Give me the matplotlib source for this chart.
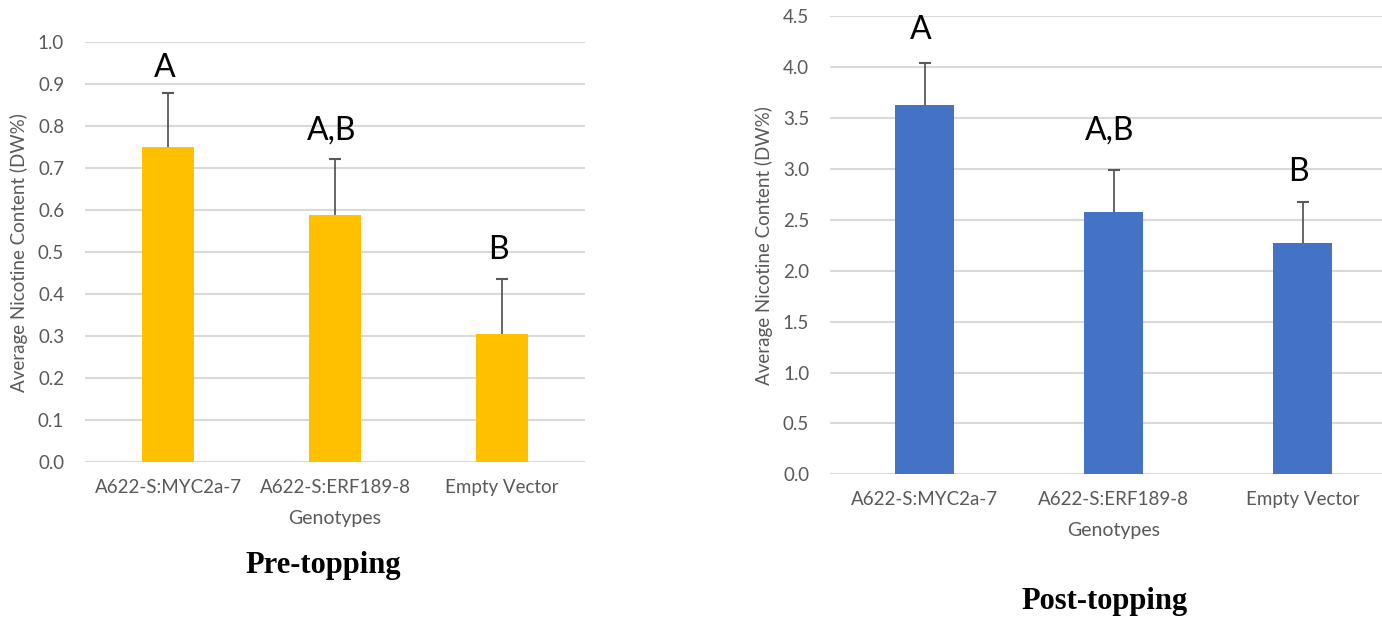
import numpy as np
import matplotlib.pyplot as plt

# nicotine content per genotype, before and after topping
genotypes = ['A622-S:MYC2a-7', 'A622-S:ERF189-8', 'Empty Vector']
pre_mean = [0.75, 0.59, 0.305]
pre_err = [0.13, 0.132, 0.131]
pre_groups = ['A', 'A,B', 'B']
pre_label_y = [0.94, 0.79, 0.505]

post_mean = [3.63, 2.58, 2.27]
post_err = [0.41, 0.41, 0.41]
post_groups = ['A', 'A,B', 'B']
post_label_y = [4.37, 3.38, 2.97]

plt.rcParams['font.family'] = ['Lato', 'DejaVu Sans']
grey = '#595959'

fig = plt.figure(figsize=(13.82, 6.21), dpi=100)


def panel(rect, means, errs, groups, label_y, color, ymax, step):
    ax = fig.add_axes(rect)
    x = np.arange(len(genotypes))
    means = np.array(means)
    tops = means + np.array(errs)
    ax.bar(x, means, width=0.313, color=color, zorder=2)
    # plus-only error bars: stem from bar top and a cap at the end
    ax.vlines(x, means, tops, color=grey, linewidth=1.3, zorder=3)
    ax.plot(x, tops, linestyle='none', marker='_', markersize=8,
            markeredgewidth=1.5, color=grey, zorder=3)
    for xi, g, ly in zip(x, groups, label_y):
        ax.text(xi - 0.02, ly, g, ha='center', va='center', fontsize=23,
                color='black')
    ax.set_xlim(-0.5, 2.5)
    ax.set_ylim(0, ymax * 1.001)
    ticks = np.arange(0, ymax + step / 2, step)
    ax.set_yticks(ticks)
    ax.set_yticklabels([f'{t:.1f}' for t in ticks])
    ax.set_xticks(x)
    ax.set_xticklabels(genotypes)
    ax.grid(axis='y', color='#d9d9d9', linewidth=1.5, zorder=0)
    ax.set_axisbelow(True)
    for s in ax.spines.values():
        s.set_visible(False)
    ax.tick_params(axis='both', length=0, labelsize=13.5, colors=grey)
    ax.tick_params(axis='y', pad=15)
    ax.tick_params(axis='x', pad=12)
    ax.set_xlabel('Genotypes', fontsize=14, color=grey, labelpad=10)
    ax.set_ylabel('Average Nicotine Content (DW%)', fontsize=13.5, color=grey,
                  labelpad=7)
    return ax


ax1 = panel([0.0615, 0.2556, 0.3618, 0.6768], pre_mean, pre_err, pre_groups,
            pre_label_y, '#FFC000', 1.0, 0.1)
ax2 = panel([0.6006, 0.2362, 0.4103, 0.738], post_mean, post_err, post_groups,
            post_label_y, '#4472C4', 4.5, 0.5)

fig.text(323 / 1382, 1 - 566 / 621, 'Pre-topping', ha='center', va='center',
         fontsize=22, fontweight='bold', family='Liberation Serif')
fig.text(1105 / 1382, 1 - 601 / 621, 'Post-topping', ha='center', va='center',
         fontsize=22, fontweight='bold', family='Liberation Serif')

fig.savefig('out.png', dpi=100)
